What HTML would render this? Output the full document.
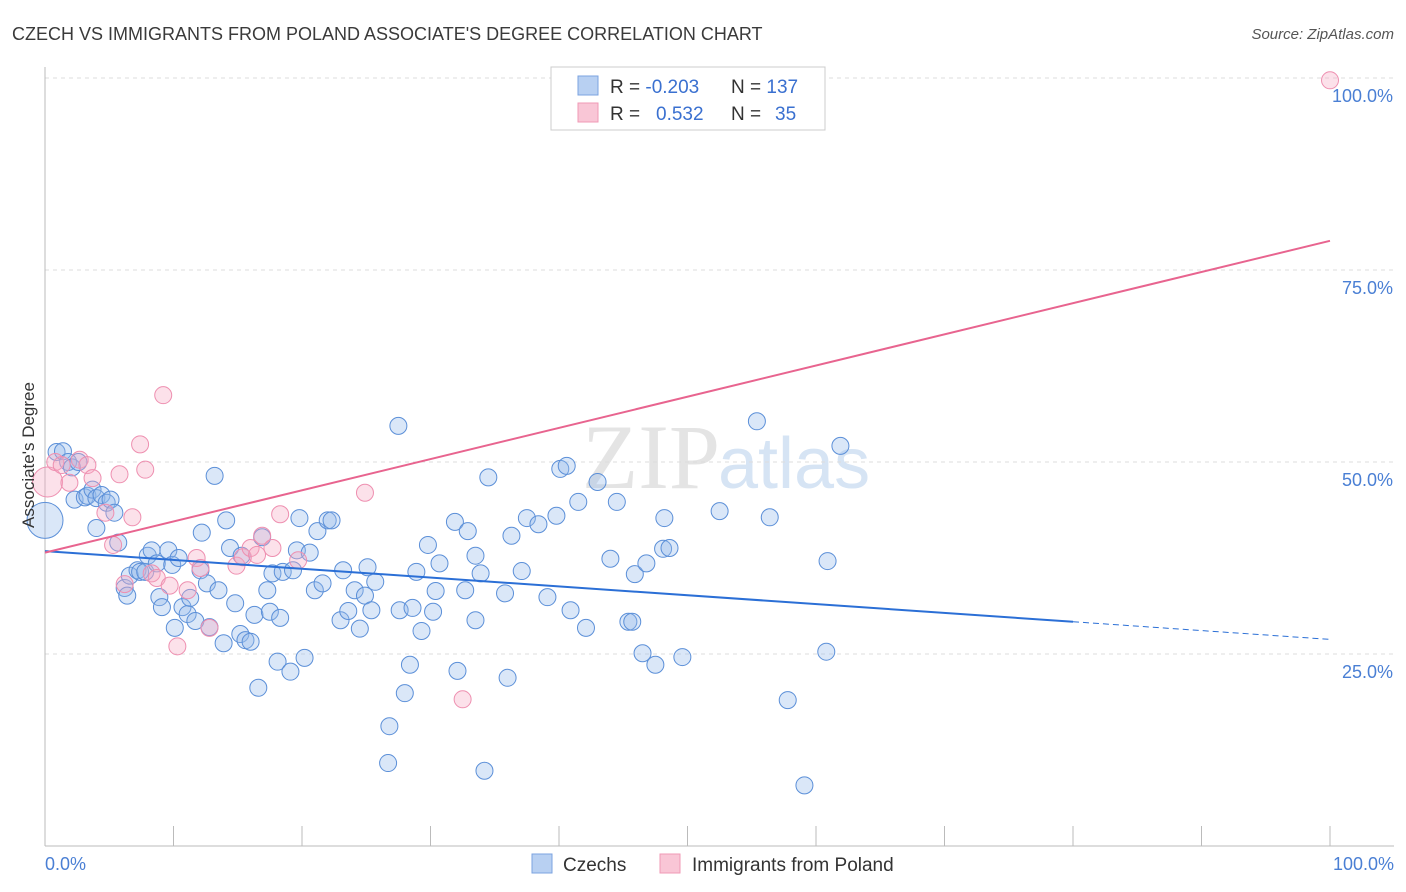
<!DOCTYPE html>
<html><head><meta charset="utf-8"><style>
body{margin:0;background:#fff;font-family:"Liberation Sans",sans-serif;}
svg{display:block}
</style></head><body>
<svg id="chart" width="1406" height="892">
<text x="12" y="40" font-size="18" fill="#3a3a3a">CZECH VS IMMIGRANTS FROM POLAND ASSOCIATE'S DEGREE CORRELATION CHART</text>
<text x="1394" y="39" font-size="15" fill="#555" text-anchor="end" font-style="italic">Source: ZipAtlas.com</text>
<text x="720" y="488" font-size="92" fill="#e4e4e4" text-anchor="end" font-family="Liberation Serif">ZIP</text>
<text x="718" y="488" font-size="72" fill="#d6e4f4">atlas</text>
<g id="grid"></g>
<g id="axes"></g>
<g id="marks"></g>
<g id="trends"></g>
<text x="34" y="455" font-size="17" fill="#333" text-anchor="middle" transform="rotate(-90 34 455)">Associate's Degree</text>
<text x="45" y="870" font-size="18" fill="#4a7fd4">0.0%</text>
<text x="1394" y="870" font-size="18" fill="#4a7fd4" text-anchor="end">100.0%</text>
<g>
<rect x="551" y="67" width="274" height="63" fill="#fff" stroke="#ccc"/>
<rect x="578" y="76" width="20" height="19" fill="#b8d0f2" stroke="#7ba3e0"/>
<rect x="578" y="103" width="20" height="19" fill="#f9c6d6" stroke="#f09ab6"/>
<text x="610" y="93" font-size="19" fill="#333">R = <tspan fill="#3a70d0">-0.203</tspan></text>
<text x="731" y="93" font-size="19" fill="#333">N = <tspan fill="#3a70d0">137</tspan></text>
<text x="610" y="120" font-size="19" fill="#333">R = <tspan fill="#3a70d0" x="656">0.532</tspan></text>
<text x="731" y="120" font-size="19" fill="#333">N = <tspan fill="#3a70d0" x="775">35</tspan></text>
</g>
<g>
<rect x="532" y="854" width="20" height="19" fill="#b8d0f2" stroke="#7ba3e0"/>
<text x="563" y="871" font-size="19" fill="#333">Czechs</text>
<rect x="660" y="854" width="20" height="19" fill="#f9c6d6" stroke="#f09ab6"/>
<text x="692" y="871" font-size="19" fill="#333">Immigrants from Poland</text>
</g>
</svg>
<script>
const blueX=[0,0.9,1.4,1.8,2.1,2.6,2.3,3.1,3.3,3.7,4.0,4.4,4.8,5.1,5.4,4.0,5.7,6.2,6.4,6.6,7.2,7.4,7.8,8.0,8.3,8.7,8.9,9.1,9.6,9.9,10.1,10.4,10.7,11.1,11.3,11.7,12.1,12.2,12.6,12.8,13.2,13.5,13.9,14.1,14.4,14.8,15.2,15.3,15.6,16.0,16.3,16.6,16.9,17.3,17.5,17.7,18.1,18.3,18.5,19.1,19.3,19.6,19.8,20.2,20.6,21.0,21.2,21.6,22.0,22.3,23.0,23.2,23.6,24.1,24.5,24.9,25.1,25.4,25.7,26.8,26.7,27.5,27.6,28.0,28.4,28.6,28.9,29.3,29.8,30.2,30.4,30.7,31.9,32.1,32.7,32.9,33.5,33.5,33.9,34.2,34.5,35.8,36.0,36.3,37.1,37.5,38.4,39.1,39.8,40.1,40.6,40.9,41.5,42.1,43.0,44.0,44.5,45.4,45.7,45.9,46.5,46.8,47.5,48.1,48.2,48.6,49.6,52.5,55.4,56.4,57.8,59.1,60.8,60.9,61.9];
const blueY=[42.4,51.3,51.4,50.0,49.3,50.0,45.1,45.4,45.6,46.4,45.3,45.7,44.7,45.1,43.4,41.4,39.5,33.6,32.6,35.2,35.9,35.7,35.7,37.8,38.5,36.8,32.4,31.1,38.5,36.6,28.4,37.5,31.1,30.2,32.3,29.3,35.9,40.8,34.2,28.5,48.2,33.3,26.4,42.4,38.8,31.6,27.6,37.8,26.8,26.6,30.1,20.6,40.2,33.3,30.5,35.5,24.0,29.7,35.7,22.7,35.9,38.5,42.7,24.5,38.2,33.3,41.0,34.2,42.4,42.4,29.4,35.9,30.6,33.3,28.3,32.6,36.3,30.7,34.4,15.6,10.8,54.7,30.7,19.9,23.6,31.0,35.7,28.0,39.2,30.5,33.2,36.8,42.2,22.8,33.3,41.0,37.8,29.4,35.5,9.8,48.0,32.9,21.9,40.4,35.8,42.7,41.9,32.4,43.0,49.1,49.5,30.7,44.8,28.4,47.4,37.4,44.8,29.2,29.2,35.4,25.1,36.8,23.6,38.7,42.7,38.8,24.6,43.6,55.3,42.8,19.0,7.9,25.3,37.1,52.1];
const pinkX=[0.2,0.8,1.3,1.9,2.7,3.3,3.7,4.7,5.3,5.8,6.2,6.8,7.4,7.8,8.3,8.7,9.2,9.7,10.3,11.1,11.8,12.1,12.8,14.9,15.4,16.0,16.5,16.9,17.7,18.3,19.7,24.9,32.5,100];
const pinkY=[47.4,50.0,49.6,47.3,50.3,49.6,47.9,43.4,39.2,48.4,34.1,42.8,52.3,49.0,35.5,34.9,58.7,33.9,26.0,33.3,37.5,36.2,28.4,36.5,37.6,38.8,37.9,40.4,38.8,43.2,37.2,46.0,19.1,99.7];
const yTicks=[25,50,75,100];
const yTickLabels=["25.0%","50.0%","75.0%","100.0%"];
const xTicks=[0,10,20,30,40,50,60,70,80,90,100];
const blueTrend=[38.4,29.2,26.9]; // at x=0, 80, 100
const pinkTrend=[38.2,78.8]; // at x=0,100

const NS="http://www.w3.org/2000/svg";
const sx=v=>45+v*12.85, sy=v=>846-v*7.68;
function mk(tag,attrs,parent){const e=document.createElementNS(NS,tag);for(const k in attrs)e.setAttribute(k,attrs[k]);document.getElementById(parent).appendChild(e);return e;}
yTicks.forEach((t,i)=>{
  const l=mk('line',{x1:45,x2:1394,y1:sy(t),y2:sy(t),stroke:'#ddd','stroke-dasharray':'4,4'},'grid');
  
  
  const tx=mk('text',{x:1393,y:sy(t)+24,'font-size':18,fill:'#4a7fd4','text-anchor':'end'},'grid');
  tx.textContent=yTickLabels[i];
  
  
});
const ya=mk('line',{x1:45,x2:45,y1:67,y2:846,stroke:'#bbb'},'axes');


const xa=mk('line',{x1:45,x2:1394,y1:846,y2:846,stroke:'#bbb'},'axes');


xTicks.forEach(t=>{
  const l=mk('line',{x1:sx(t),x2:sx(t),y1:826,y2:846,stroke:'#bbb'},'axes');
  
  
});
blueX.forEach((x,i)=>{
  const c=mk('circle',{cx:sx(x),cy:sy(blueY[i]),r:i===0?18:8.5,fill:'rgba(150,185,235,0.35)',stroke:'#5b8fd8','stroke-width':1},'marks');
  
  
});
pinkX.forEach((x,i)=>{
  const c=mk('circle',{cx:sx(x),cy:sy(pinkY[i]),r:i===0?15:8.5,fill:'rgba(245,170,195,0.35)',stroke:'#ee8fb0','stroke-width':1},'marks');
  
  
});
const b1=mk('line',{x1:sx(0),y1:sy(blueTrend[0]),x2:sx(80),y2:sy(blueTrend[1]),stroke:'#2b6fd6','stroke-width':2},'trends');


const b2=mk('line',{x1:sx(80),y1:sy(blueTrend[1]),x2:sx(100),y2:sy(blueTrend[2]),stroke:'#2b6fd6','stroke-width':1,'stroke-dasharray':'6,4'},'trends');


const p1=mk('line',{x1:sx(0),y1:sy(pinkTrend[0]),x2:sx(100),y2:sy(pinkTrend[1]),stroke:'#e8648f','stroke-width':2},'trends');


</script>
</body></html>
